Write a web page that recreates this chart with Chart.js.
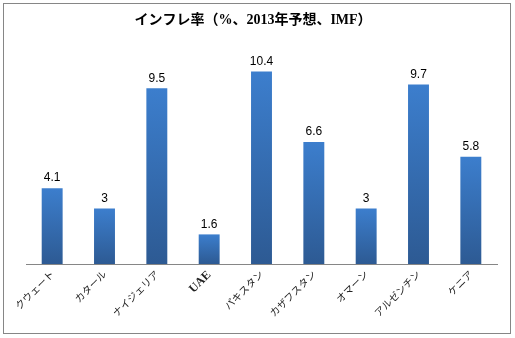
<!DOCTYPE html>
<html><head><meta charset="utf-8">
<script src="https://cdn.jsdelivr.net/npm/chart.js@4/dist/chart.umd.min.js"></script>
<style>html,body{margin:0;padding:0;background:#fff;}#wrap{width:515px;height:338px;position:relative;}</style>
</head><body><div id="wrap"><canvas id="c" width="515" height="338"></canvas></div>
<script>
const categories = ['クウェート','カタール','ナイジェリア','UAE','パキスタン','カザフスタン','オマーン','アルゼンチン','ケニア'];
const inflation = [4.1, 3, 9.5, 1.6, 10.4, 6.6, 3, 9.7, 5.8];
const valueLabels = ['4.1','3','9.5','1.6','10.4','6.6','3','9.7','5.8'];
const titleText = 'インフレ率（%、2013年予想、IMF）';

const decor = {
  id: 'decor',
  beforeDraw(chart) {
    const c = chart.ctx;
    c.save();
    c.fillStyle = '#fff';
    c.fillRect(0, 0, chart.width, chart.height);
    c.strokeStyle = '#868686';
    c.lineWidth = 1;
    c.strokeRect(3.5, 3.5, 507, 330);
    c.fillStyle = '#000';
    c.font = 'bold 14px "Liberation Serif", "Noto Sans CJK JP", serif';
    c.textAlign = 'center';
    c.textBaseline = 'middle';
    c.fillText(titleText, 253, 20);
    c.restore();
  },
  afterDatasetsDraw(chart) {
    const c = chart.ctx;
    const meta = chart.getDatasetMeta(0);
    c.save();
    c.fillStyle = '#000';
    c.font = '12px "Liberation Sans", Arial, sans-serif';
    c.textAlign = 'center';
    c.textBaseline = 'bottom';
    meta.data.forEach((bar, i) => {
      c.fillText(valueLabels[i], bar.x, bar.y - 4);
    });
    c.restore();
  }
};

new Chart(document.getElementById('c'), {
  type: 'bar',
  data: {
    labels: categories,
    datasets: [{
      data: inflation,
      backgroundColor: (ctx) => {
        const chart = ctx.chart;
        if (!chart.chartArea || ctx.parsed === undefined) return '#3570b4';
        const y = chart.scales.y;
        const top = y.getPixelForValue(ctx.parsed.y);
        const bottom = y.getPixelForValue(0);
        const g = chart.ctx.createLinearGradient(0, top, 0, bottom);
        g.addColorStop(0, '#3c7ecd');
        g.addColorStop(1, '#2d5a93');
        return g;
      },
      borderWidth: 0,
      barPercentage: 0.8,
      categoryPercentage: 0.5
    }]
  },
  options: {
    responsive: false,
    animation: false,
    layout: { padding: { left: 26, right: 18, top: 42, bottom: 4 } },
    plugins: { legend: { display: false }, title: { display: false }, tooltip: { enabled: false } },
    scales: {
      x: {
        grid: { display: false, drawTicks: false },
        border: { display: true, color: '#868686', width: 1 },
        ticks: {
          minRotation: 45, maxRotation: 45, autoSkip: false, padding: 4,
          color: '#222',
          font: (ctx) => (ctx.tick && ctx.tick.label === 'UAE')
            ? { family: '"Liberation Serif", serif', size: 12, weight: 'bold' }
            : { family: '"Noto Sans CJK JP", sans-serif', size: 10 }
        },
        afterFit(scale) { scale.height = 70; scale.paddingLeft = 0; scale.paddingRight = 0; }
      },
      y: { display: false, min: 0, max: 12 }
    }
  },
  plugins: [decor]
});
</script>
</body></html>
